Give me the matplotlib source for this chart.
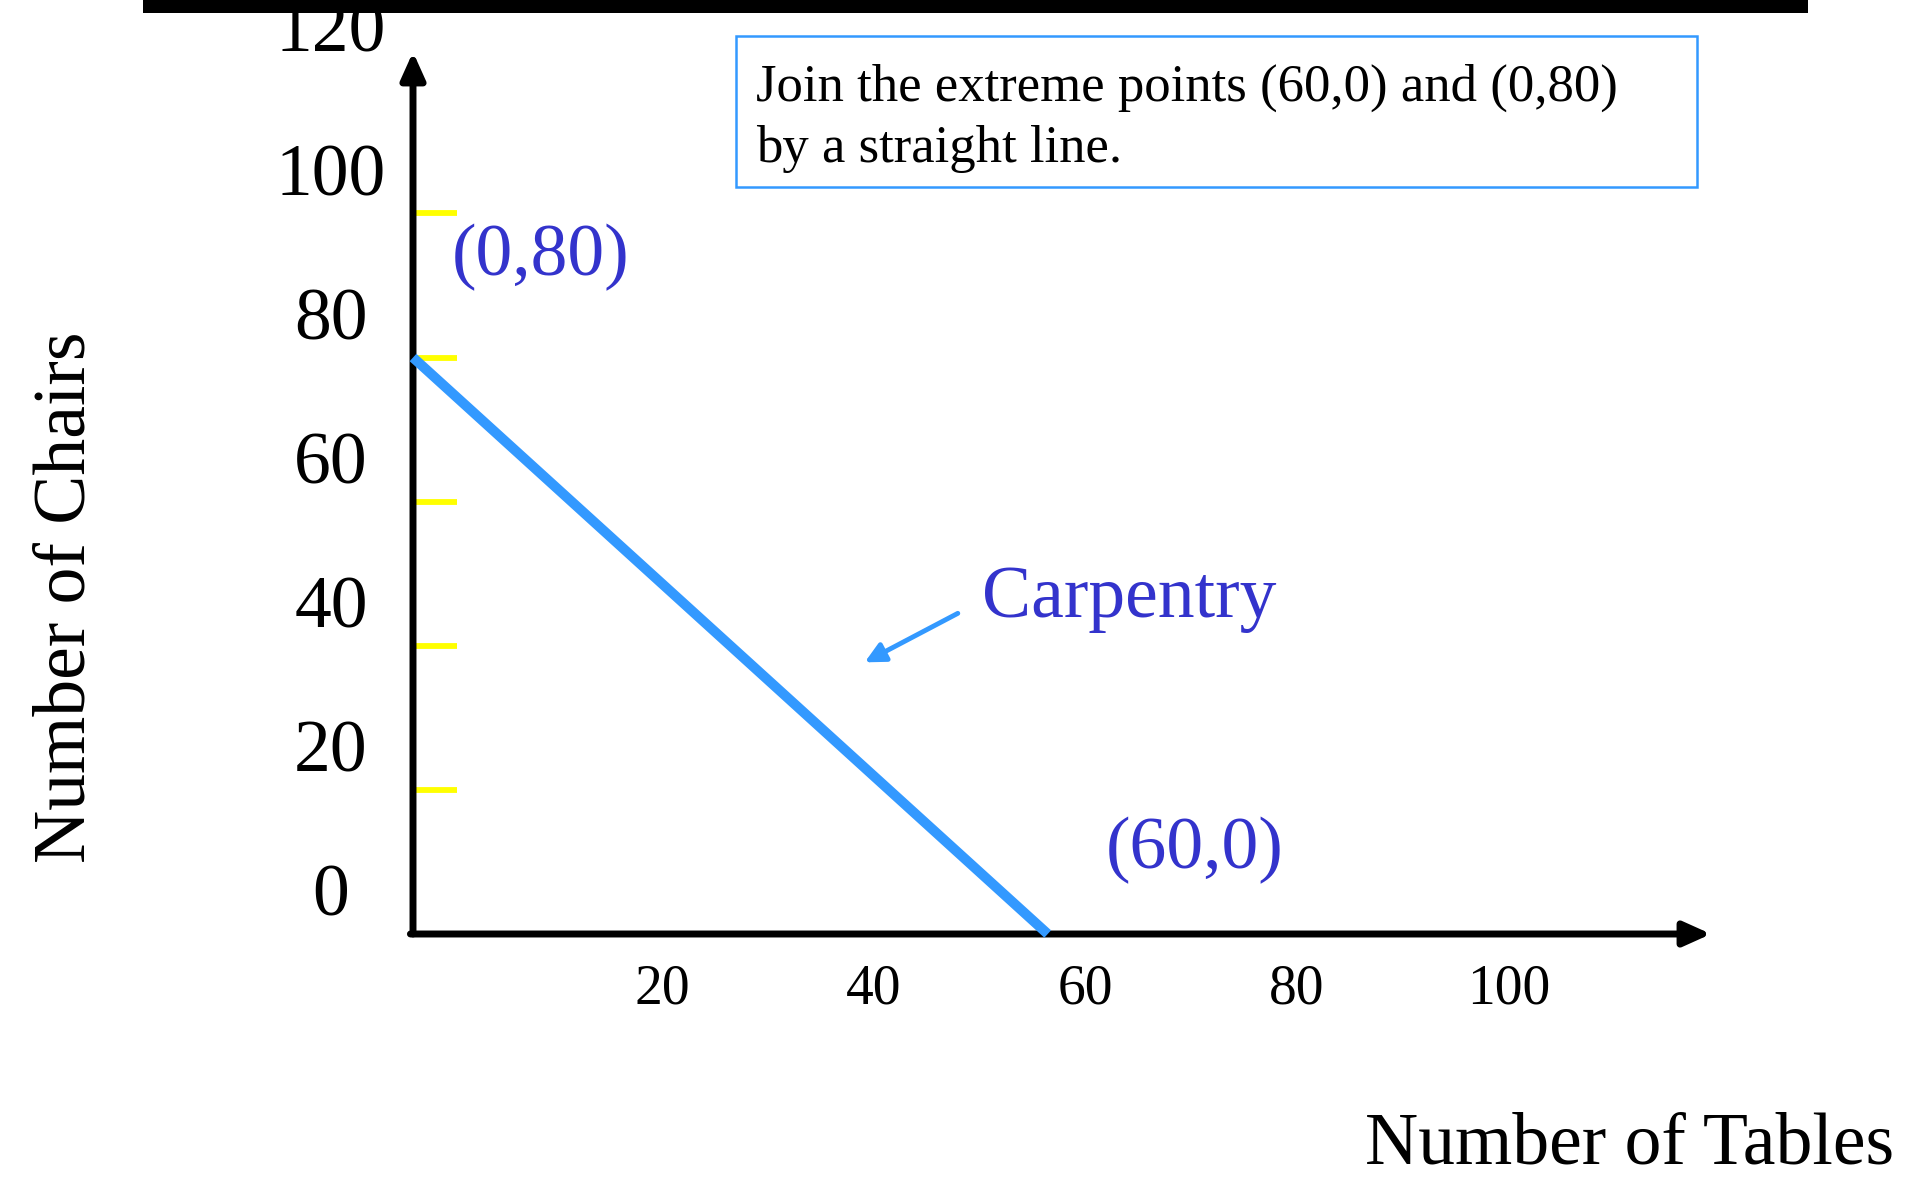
import matplotlib.pyplot as plt
from matplotlib.patches import Rectangle

plt.rcParams['font.family'] = ['Liberation Serif', 'DejaVu Serif']

# carpentry constraint: extreme points (60,0) and (0,80)
tables = [0, 60]
chairs = [80, 0]

chair_ticks = [20, 40, 60, 80, 100]
chair_labels = [0, 20, 40, 60, 80, 100, 120]
table_labels = [20, 40, 60, 80, 100]

W, H = 1907, 1183
fig = plt.figure(figsize=(W / 100, H / 100), dpi=100)
ax = fig.add_axes([413 / W, 249 / H, 1298 / W, 882 / H])
ax.set_xlim(0, 122.7)
ax.set_ylim(0, 122.4)
for s in ax.spines.values():
    s.set_visible(False)
ax.set_xticks([])
ax.set_yticks(chair_ticks)
ax.tick_params(axis='y', direction='in', length=32, width=4.2, color='#FFFF00', labelleft=False)

# axes drawn as arrows
axis_arrow = dict(arrowstyle='-|>,head_length=0.6,head_width=0.27', color='black', lw=5,
                  shrinkA=0, shrinkB=0, mutation_scale=27)
ax.annotate('', xy=(1, 0), xytext=(-0.002, 0), xycoords='axes fraction', arrowprops=axis_arrow,
            annotation_clip=False)
ax.annotate('', xy=(0, 1), xytext=(0, 0), xycoords='axes fraction', arrowprops=axis_arrow,
            annotation_clip=False)

# tick labels (slightly offset from the marks)
for v in chair_labels:
    ax.annotate(str(v), xy=(0, v), xycoords=('axes fraction', 'data'), xytext=(-59, 13),
                textcoords='offset points', ha='center', va='baseline', fontsize=53,
                annotation_clip=False)
for v in table_labels:
    ax.annotate(str(v), xy=(v, 0), xycoords=('data', 'axes fraction'), xytext=(27, -50),
                textcoords='offset points', ha='center', va='baseline', fontsize=40,
                annotation_clip=False)

# the constraint line
ax.plot(tables, chairs, color='#3399FF', lw=7.2, solid_capstyle='butt', clip_on=False, zorder=4)

blue = '#3333CC'
ax.annotate('(0,80)', xy=(tables[0], chairs[0]), xytext=(92, 72), textcoords='offset points',
            ha='center', va='center', fontsize=53, color=blue, annotation_clip=False)
ax.annotate('(60,0)', xy=(tables[1], chairs[1]), xytext=(106, 60), textcoords='offset points',
            ha='center', va='center', fontsize=53, color=blue, annotation_clip=False)

ax.text(53.8, 44.0, 'Carpentry', ha='left', va='baseline', fontsize=53, color=blue)
ax.annotate('', xy=(42.7, 37.7), xytext=(51.5, 44.5),
            arrowprops=dict(arrowstyle='-|>,head_length=0.6,head_width=0.3', color='#3399FF',
                            lw=3.5, shrinkA=0, shrinkB=0, mutation_scale=20))

# note box
fig.add_artist(Rectangle((736 / W, 1 - 187 / H), (1697 - 736) / W, (187 - 36) / H,
                         transform=fig.transFigure, fill=False, ec='#3399FF', lw=1.8))
fig.text(756 / W, 1 - 101 / H, 'Join the extreme points (60,0) and (0,80)', fontsize=38,
         va='baseline')
fig.text(756 / W, 1 - 162 / H, 'by a straight line.', fontsize=38, va='baseline')

# black bar across the top
fig.add_artist(Rectangle((143 / W, 1 - 13 / H), (1808 - 143) / W, 20 / H,
                         transform=fig.transFigure, fc='black', ec='none', zorder=10))

fig.text(1894 / W, 1 - 1164 / H, 'Number of Tables', ha='right', va='baseline', fontsize=53)
fig.text(85 / W, 1 - 597 / H, 'Number of Chairs', ha='center', va='baseline', fontsize=53,
         rotation=90, rotation_mode='anchor')

fig.savefig('out.png', dpi=100)
